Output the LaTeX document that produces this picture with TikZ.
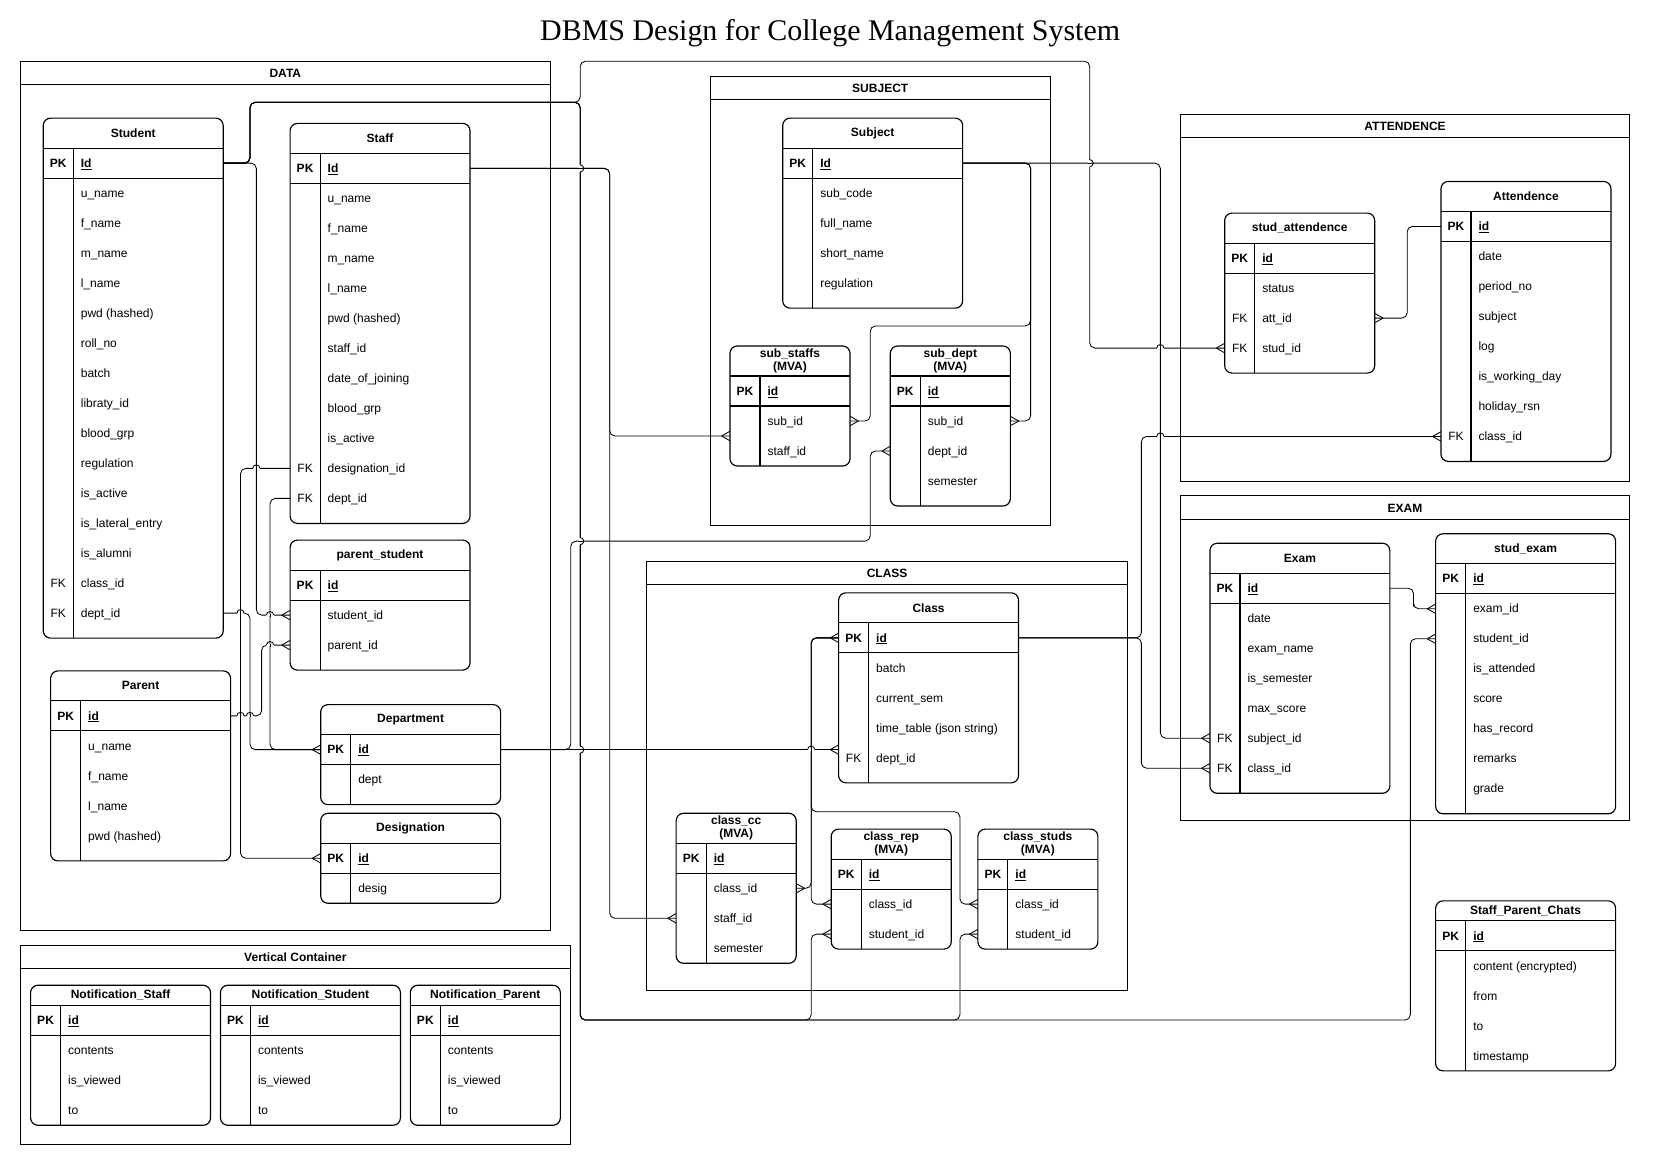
\documentclass[tikz,border=0pt]{standalone}
\usepackage{fontspec}
\setmainfont{Liberation Sans}
\newfontfamily\titlefont{Liberation Serif}
\usetikzlibrary{calc}
\newcommand{\RH}{28.44}
\newcommand{\KW}{28.44}
\tikzset{
 tbl/.style={draw=black, line width=1.1pt},
 tblbox/.style={draw=black, fill=white, line width=1.1pt, rounded corners=7pt},
 cont/.style={draw=black, line width=0.8pt},
 conn/.style={draw=black, line width=0.8pt, rounded corners=5pt},
 attr/.style={inner sep=0pt, font=\fontsize{11.4}{13}\selectfont},
 keyt/.style={inner sep=0pt, font=\fontsize{11.4}{13}\selectfont},
 ttl/.style={inner sep=0pt, align=center, font=\fontsize{11.4}{12.5}\selectfont\bfseries},
 ctitle/.style={inner sep=0pt, font=\fontsize{11.4}{13}\selectfont\bfseries},
 jl/.style={draw=black, line width=0.8pt},
}
% #1 name #2 x #3 y #4 w #5 title #6 header h #7 rows #8 pad #9 list
\newcommand{\ertable}[9]{%
 \pgfmathsetmacro{\tbot}{#3+#6+#7*\RH+#8}%
 \draw[tblbox] (#2,#3) rectangle ({#2+#4},\tbot);
 \draw[tbl] (#2,{#3+#6}) -- ({#2+#4},{#3+#6});
 \draw[tbl] (#2,{#3+#6+\RH}) -- ({#2+#4},{#3+#6+\RH});
 \draw[tbl] ({#2+\KW},{#3+#6}) -- ({#2+\KW},\tbot);
 \node[ttl] (#1-title) at ({#2+#4/2},{#3+#6/2}) {#5};
 \foreach \keyv/\labv [count=\ri from 0] in {#9} {%
   \pgfmathsetmacro{\yc}{#3+#6+\RH*\ri+\RH/2}%
   \coordinate (#1-\ri-w) at (#2,\yc);
   \coordinate (#1-\ri-e) at ({#2+#4},\yc);
   \node[keyt, anchor=base] (#1-\ri-k) at ({#2+\KW/2},{\yc+4}) {\ifnum\ri=0 \bfseries\fi\keyv};
   \node[attr, anchor=base west] (#1-\ri-a) at ({#2+\KW+7},{\yc+4}) {\ifnum\ri=0 \bfseries\underline{\labv}\else\labv\fi};
 }%
}
\newcommand{\ercont}[6]{%
 \draw[cont] (#2,#3) rectangle (#4,#5);
 \draw[cont] (#2,{#3+22.5}) -- (#4,{#3+22.5});
 \node[ctitle] (#1) at ({(#2+#4)/2},{#3+11.5}) {#6};
}
\newcommand{\hjump}[2]{%
 \fill[white] ({#1-3.4},{#2-1.3}) rectangle ({#1+3.4},{#2+1.3});
 \draw[jl] (#1,{#2-1.5}) -- (#1,{#2+1.5});
 \draw[jl] ({#1-3.4},#2) arc[start angle=180,end angle=0,radius=3.4pt];
}
\newcommand{\vjump}[2]{%
 \fill[white] ({#1-1.3},{#2-3.4}) rectangle ({#1+1.3},{#2+3.4});
 \draw[jl] ({#1-1.5},#2) -- ({#1+1.5},#2);
 \draw[jl] (#1,{#2-3.4}) arc[start angle=90,end angle=-90,radius=3.4pt];
}
\newcommand{\crowR}[1]{\draw[jl] ($(#1)+(-8,0)$) -- ($(#1)+(0,-4.5)$) ($(#1)+(-8,0)$) -- ($(#1)+(0,4.5)$);}
\newcommand{\crowL}[1]{\draw[jl] ($(#1)+(8,0)$) -- ($(#1)+(0,-4.5)$) ($(#1)+(8,0)$) -- ($(#1)+(0,4.5)$);}
\begin{document}
\begin{tikzpicture}[x=1pt,y=-1pt]
\useasboundingbox (0,0) rectangle (1568,1108);
\fill[white] (0,0) rectangle (1568,1108);
\node[inner sep=0pt, font=\titlefont\fontsize{28.4}{32}\selectfont] (title) at (787,31) {DBMS Design for College Management System};

% containers
\ercont{cdata}{19}{58}{522}{882}{DATA}
\ercont{csubject}{673}{72}{996}{498}{SUBJECT}
\ercont{catt}{1119}{108}{1545}{456}{ATTENDENCE}
\ercont{cexam}{1119}{470}{1545}{778}{EXAM}
\ercont{cclass}{613}{532}{1069}{939}{CLASS}
\ercont{cvert}{19}{896}{541}{1085}{Vertical Container}

% tables
\ertable{student}{41}{112}{170.6}{Student}{28.44}{16}{9.5}{PK/Id, /u\_name, /f\_name, /m\_name, /l\_name, /pwd (hashed), /roll\_no, /batch, /libraty\_id, /blood\_grp, /regulation, /is\_active, /is\_lateral\_entry, /is\_alumni, FK/class\_id, FK/dept\_id}
\ertable{staff}{275}{117}{170.6}{Staff}{28.44}{12}{9.5}{PK/Id, /u\_name, /f\_name, /m\_name, /l\_name, /pwd (hashed), /staff\_id, /date\_of\_joining, /blood\_grp, /is\_active, FK/designation\_id, FK/dept\_id}
\ertable{pstudent}{275}{512}{170.6}{parent\_student}{28.44}{3}{9.5}{PK/id, /student\_id, /parent\_id}
\ertable{parent}{48}{636}{170.6}{Parent}{28.44}{5}{9.5}{PK/id, /u\_name, /f\_name, /l\_name, /pwd (hashed)}
\ertable{dept}{304}{668}{170.6}{Department}{28.44}{2}{9.5}{PK/id, /dept}
\ertable{desig}{304}{771}{170.6}{Designation}{28.44}{2}{0}{PK/id, /desig}
\ertable{subject}{742}{112}{170.6}{Subject}{28.44}{5}{9.5}{PK/Id, /sub\_code, /full\_name, /short\_name, /regulation}
\ertable{substaffs}{692}{328}{113.8}{sub\_staffs\\(MVA)}{28.44}{3}{0}{PK/id, /sub\_id, /staff\_id}
\ertable{subdept}{844}{328}{113.8}{sub\_dept\\(MVA)}{28.44}{4}{9.5}{PK/id, /sub\_id, /dept\_id, /semester}
\ertable{studatt}{1161}{202}{142.2}{stud\_attendence}{28.44}{4}{9.5}{PK/id, /status, FK/att\_id, FK/stud\_id}
\ertable{att}{1366}{172}{161.2}{Attendence}{28.44}{8}{9.5}{PK/id, /date, /period\_no, /subject, /log, /is\_working\_day, /holiday\_rsn, FK/class\_id}
\ertable{exam}{1147}{515}{170.6}{Exam}{28.44}{7}{9.5}{PK/id, /date, /exam\_name, /is\_semester, /max\_score, FK/subject\_id, FK/class\_id}
\ertable{studexam}{1361}{506}{170.6}{stud\_exam}{28.44}{8}{9.5}{PK/id, /exam\_id, /student\_id, /is\_attended, /score, /has\_record, /remarks, /grade}
\ertable{class}{795}{562}{170.6}{Class}{28.44}{5}{9.5}{PK/id, /batch, /current\_sem, /time\_table (json string), FK/dept\_id}
\ertable{classcc}{641}{771}{113.8}{class\_cc\\(MVA)}{28.44}{4}{0}{PK/id, /class\_id, /staff\_id, /semester}
\ertable{classrep}{788}{786}{113.8}{class\_rep\\(MVA)}{28.44}{3}{0}{PK/id, /class\_id, /student\_id}
\ertable{classstuds}{927}{786}{113.8}{class\_studs\\(MVA)}{28.44}{3}{0}{PK/id, /class\_id, /student\_id}
\ertable{nstaff}{29}{934}{170.6}{Notification\_Staff}{19}{4}{0}{PK/id, /contents, /is\_viewed, /to}
\ertable{nstudent}{209}{934}{170.6}{Notification\_Student}{19}{4}{0}{PK/id, /contents, /is\_viewed, /to}
\ertable{nparent}{389}{934}{142.2}{Notification\_Parent}{19}{4}{0}{PK/id, /contents, /is\_viewed, /to}
\ertable{chats}{1361}{854}{170.6}{Staff\_Parent\_Chats}{19}{5}{0}{PK/id, /content (encrypted), /from, /to, /timestamp}

\coordinate (substaffs-mid) at ($(substaffs-1-w)!0.5!(substaffs-2-w)$);
\coordinate (classdeptin) at (class-0-w |- dept-0-e);

% connectors
\draw[conn] (student-0-e) -| (243,300) |- (pstudent-1-w);
\draw[conn] (student-0-e) -| (237,97) -| (550,58) -| (1033,250) |- (studatt-3-w);
\draw[conn] (student-0-e) -| (237,97) -| (550,967) -| (1337,700) |- (studexam-2-w);
\draw[conn] (student-0-e) -| (237,97) -| (550,967) -| (769,920) |- (classrep-2-w);
\draw[conn] (student-0-e) -| (237,97) -| (550,967) -| (910,920) |- (classstuds-2-w);
\draw[conn] (staff-0-e) -| (578,700) |- (classcc-2-w);
\draw[conn] (staff-0-e) -| (578,300) |- (substaffs-mid);
\draw[conn] (subject-0-e) -| (1100,600) |- (exam-5-w);
\draw[conn] (subject-0-e) -| (977,300) |- (subdept-1-e);
\draw[conn] (subject-0-e) -| (977,309) -| (825,380) |- (substaffs-1-e);
\draw[conn] (dept-0-e) -- (classdeptin);
\draw[conn] (dept-0-e) -| (541,513) -| (825,460) |- (subdept-2-w);
\draw[conn] (class-0-e) -| (1082,500) |- (att-7-w);
\draw[conn] (class-0-e) -| (1082,700) |- (exam-6-w);
\draw[conn] (class-0-w) -| (769,800) |- (classrep-1-w);
\draw[conn] (class-0-w) -| (769,800) |- (classcc-1-e);
\draw[conn] (class-0-w) -| (769,769.5) -| (910,820) |- (classstuds-1-w);
\draw[conn] (exam-0-e) -| (1340,570) |- (studexam-1-w);
\draw[conn] (studatt-2-e) -| (1334,250) |- (att-0-w);
\draw[conn] (staff-10-w) -| (228,700) |- (desig-0-w);
\draw[conn] (staff-11-w) -| (256,600) |- (dept-0-w);
\draw[conn] (student-15-e) -| (237,650) |- (dept-0-w);
\draw[conn] (parent-0-e) -| (248,650) |- (pstudent-2-w);

% crow's feet
\crowR{pstudent-1-w}\crowR{studatt-3-w}\crowR{studexam-2-w}\crowR{classrep-2-w}
\crowR{classstuds-2-w}\crowR{classcc-2-w}\crowR{substaffs-mid}\crowR{exam-5-w}
\crowR{subdept-2-w}\crowR{classdeptin}\crowR{att-7-w}\crowR{exam-6-w}
\crowR{classrep-1-w}\crowR{class-0-w}\crowR{classstuds-1-w}\crowR{studexam-1-w}
\crowR{desig-0-w}\crowR{dept-0-w}\crowR{pstudent-2-w}
\crowL{subdept-1-e}\crowL{substaffs-1-e}\crowL{classcc-1-e}\crowL{studatt-2-e}

% line jumps
\vjump{550}{159.66}
\vjump{550}{513}
\vjump{550}{710.66}
\vjump{1033}{154.66}
\hjump{1100}{329.98}
\hjump{1100}{413.74}
\hjump{769}{710.66}
\hjump{243}{444.06}
\hjump{228}{581.26}
\hjump{228}{678.66}
\hjump{237}{678.66}
\hjump{256}{611.54}
\hjump{256}{583.1}
\end{tikzpicture}
\end{document}
